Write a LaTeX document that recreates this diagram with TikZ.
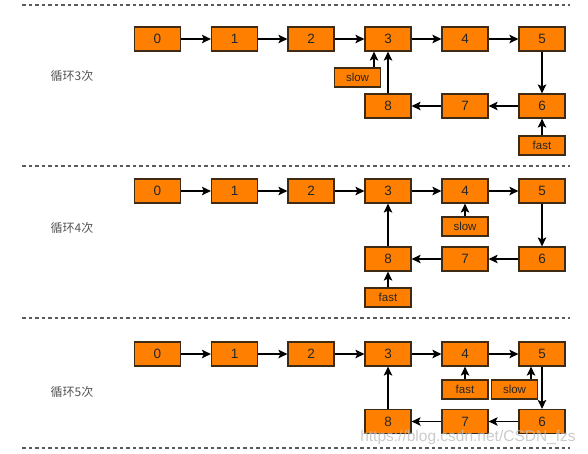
\documentclass[tikz,border=0pt]{standalone}
\usepackage{fontspec}
\setmainfont{Liberation Sans}
\newfontfamily\cjk{Noto Sans CJK SC}
\usetikzlibrary{arrows.meta}
\definecolor{boxfill}{HTML}{FF8000}
\definecolor{boxline}{HTML}{3F2A14}
\definecolor{lblcol}{HTML}{555555}
\definecolor{sepcol}{HTML}{5A5A5A}
\begin{document}
\begin{tikzpicture}[x=1pt,y=-1pt,
  nbox/.style={draw=boxline,line width=1.2pt,fill=boxfill,minimum width=46pt,minimum height=24pt,inner sep=0pt,font=\fontsize{13.5}{14}\selectfont,text=black!85},
  pbox/.style={draw=boxline,line width=1.2pt,fill=boxfill,minimum width=46pt,minimum height=19pt,inner sep=0pt,font=\fontsize{11.5}{12}\selectfont,text=black!85},
  conn/.style={line width=1.2pt,-{Stealth[length=9pt,width=8.5pt,inset=2pt]}},
  sepline/.style={draw=sepcol,line width=1.1pt,dash pattern=on 3.5pt off 3pt},
  roundlabel/.style={font=\cjk\fontsize{12}{13}\selectfont,text=lblcol}]
\useasboundingbox (0,0) rectangle (588,453);
\fill[white] (0,0) rectangle (588,453);
% separators
\coordinate (s1a) at (22,5);   \coordinate (s1b) at (570,5);
\coordinate (s2a) at (22,166); \coordinate (s2b) at (570,166);
\coordinate (s3a) at (22,318); \coordinate (s3b) at (570,318);
\coordinate (s4a) at (22,448); \coordinate (s4b) at (570,448);
\draw[sepline] (s1a) -- (s1b);
\draw[sepline] (s2a) -- (s2b);
\draw[sepline] (s3a) -- (s3b);
\draw[sepline] (s4a) -- (s4b);
% ---------- section 1 ----------
\node[roundlabel] (c1) at (72,76) {循环3次};
\node[nbox] (a0) at (157.5,39) {0};
\node[nbox] (a1) at (234.5,39) {1};
\node[nbox] (a2) at (311,39) {2};
\node[nbox] (a3) at (388,39) {3};
\node[nbox] (a4) at (465,39) {4};
\node[nbox] (a5) at (542,39) {5};
\node[nbox] (a6) at (542,106) {6};
\node[nbox] (a7) at (465,106) {7};
\node[nbox] (a8) at (388,106) {8};
\node[pbox] (aslow) at (357.5,77.5) {slow};
\node[pbox] (afast) at (542,145.5) {fast};
\draw[conn] (a0) -- (a1);
\draw[conn] (a1) -- (a2);
\draw[conn] (a2) -- (a3);
\draw[conn] (a3) -- (a4);
\draw[conn] (a4) -- (a5);
\draw[conn] (a5) -- (a6);
\draw[conn] (a6) -- (a7);
\draw[conn] (a7) -- (a8);
\draw[conn] (a8) -- (a3);
\draw[conn] (aslow.north -| 374,0) -- (a3.south -| 374,0);
\draw[conn] (afast) -- (a6);
% ---------- section 2 ----------
\node[roundlabel] (c2) at (72,228) {循环4次};
\node[nbox] (b0) at (157.5,191) {0};
\node[nbox] (b1) at (234.5,191) {1};
\node[nbox] (b2) at (311,191) {2};
\node[nbox] (b3) at (388,191) {3};
\node[nbox] (b4) at (465,191) {4};
\node[nbox] (b5) at (542,191) {5};
\node[nbox] (b6) at (542,259) {6};
\node[nbox] (b7) at (465,259) {7};
\node[nbox] (b8) at (388,259) {8};
\node[pbox] (bslow) at (465,226.5) {slow};
\node[pbox] (bfast) at (388,297.5) {fast};
\draw[conn] (b0) -- (b1);
\draw[conn] (b1) -- (b2);
\draw[conn] (b2) -- (b3);
\draw[conn] (b3) -- (b4);
\draw[conn] (b4) -- (b5);
\draw[conn] (b5) -- (b6);
\draw[conn] (b6) -- (b7);
\draw[conn] (b7) -- (b8);
\draw[conn] (b8) -- (b3);
\draw[conn] (bslow) -- (b4);
\draw[conn] (bfast) -- (b8);
% ---------- section 3 ----------
\node[roundlabel] (c3) at (72,392) {循环5次};
\node[nbox] (d0) at (157.5,354) {0};
\node[nbox] (d1) at (234.5,354) {1};
\node[nbox] (d2) at (311,354) {2};
\node[nbox] (d3) at (388,354) {3};
\node[nbox] (d4) at (465,354) {4};
\node[nbox] (d5) at (542,354) {5};
\node[nbox] (d6) at (542,421.5) {6};
\node[nbox] (d7) at (465,421.5) {7};
\node[nbox] (d8) at (388,421.5) {8};
\node[pbox] (dfast) at (465,389.5) {fast};
\node[pbox] (dslow) at (514.5,389.5) {slow};
\draw[conn] (d0) -- (d1);
\draw[conn] (d1) -- (d2);
\draw[conn] (d2) -- (d3);
\draw[conn] (d3) -- (d4);
\draw[conn] (d4) -- (d5);
\draw[conn] (d5) -- (d6);
\draw[conn] (d6) -- (d7);
\draw[conn] (d7) -- (d8);
\draw[conn] (d8) -- (d3);
\draw[conn] (dfast) -- (d4);
\draw[conn] (dslow.north -| 531,0) -- (d5.south -| 531,0);
% watermark
\node[text=black!25,opacity=0.8,inner sep=0pt,font=\fontsize{15.5}{16}\selectfont,anchor=center] (wm) at (468,437) {https://blog.csdn.net/CSDN\_fzs};
\end{tikzpicture}
\end{document}
